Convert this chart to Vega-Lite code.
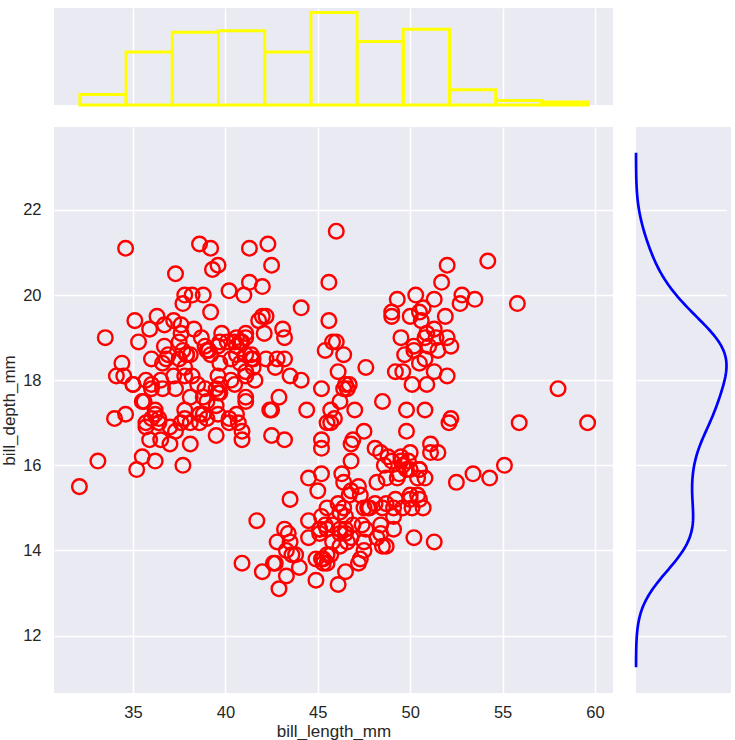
{
"$schema": "https://vega.github.io/schema/vega-lite/v6.json",
"background": "white",
"padding": {"left": 0, "top": 8, "right": 0, "bottom": 0},
"config": {
  "view": {"fill": "#EAEAF2", "stroke": null},
  "axis": {"gridColor": "white", "gridWidth": 1.5, "gridOpacity": 1, "domain": false, "ticks": false, "labelFont": "Liberation Sans", "titleFont": "Liberation Sans", "labelFontSize": 16.5, "titleFontSize": 17, "labelColor": "#262626", "titleColor": "#262626", "titleFontWeight": "normal"}
},
"datasets": {"penguins": [
{"bill_length_mm":39.1,"bill_depth_mm":18.7},{"bill_length_mm":39.5,"bill_depth_mm":17.4},{"bill_length_mm":40.3,"bill_depth_mm":18.0},{"bill_length_mm":36.7,"bill_depth_mm":19.3},{"bill_length_mm":39.3,"bill_depth_mm":20.6},{"bill_length_mm":38.9,"bill_depth_mm":17.8},{"bill_length_mm":39.2,"bill_depth_mm":19.6},{"bill_length_mm":34.1,"bill_depth_mm":18.1},{"bill_length_mm":42.0,"bill_depth_mm":20.2},{"bill_length_mm":37.8,"bill_depth_mm":17.1},
{"bill_length_mm":37.8,"bill_depth_mm":17.3},{"bill_length_mm":41.1,"bill_depth_mm":17.6},{"bill_length_mm":38.6,"bill_depth_mm":21.2},{"bill_length_mm":34.6,"bill_depth_mm":21.1},{"bill_length_mm":36.6,"bill_depth_mm":17.8},{"bill_length_mm":38.7,"bill_depth_mm":19.0},{"bill_length_mm":42.5,"bill_depth_mm":20.7},{"bill_length_mm":34.4,"bill_depth_mm":18.4},{"bill_length_mm":46.0,"bill_depth_mm":21.5},{"bill_length_mm":37.8,"bill_depth_mm":18.3},
{"bill_length_mm":37.7,"bill_depth_mm":18.7},{"bill_length_mm":35.9,"bill_depth_mm":19.2},{"bill_length_mm":38.2,"bill_depth_mm":18.1},{"bill_length_mm":38.8,"bill_depth_mm":17.2},{"bill_length_mm":35.3,"bill_depth_mm":18.9},{"bill_length_mm":40.6,"bill_depth_mm":18.6},{"bill_length_mm":40.5,"bill_depth_mm":17.9},{"bill_length_mm":37.9,"bill_depth_mm":18.6},{"bill_length_mm":40.5,"bill_depth_mm":18.9},{"bill_length_mm":39.5,"bill_depth_mm":16.7},
{"bill_length_mm":37.2,"bill_depth_mm":18.1},{"bill_length_mm":39.5,"bill_depth_mm":17.8},{"bill_length_mm":40.9,"bill_depth_mm":18.9},{"bill_length_mm":36.4,"bill_depth_mm":17.0},{"bill_length_mm":39.2,"bill_depth_mm":21.1},{"bill_length_mm":38.8,"bill_depth_mm":20.0},{"bill_length_mm":42.2,"bill_depth_mm":18.5},{"bill_length_mm":37.6,"bill_depth_mm":19.3},{"bill_length_mm":39.8,"bill_depth_mm":19.1},{"bill_length_mm":36.5,"bill_depth_mm":18.0},
{"bill_length_mm":40.8,"bill_depth_mm":18.4},{"bill_length_mm":36.0,"bill_depth_mm":18.5},{"bill_length_mm":44.1,"bill_depth_mm":19.7},{"bill_length_mm":37.0,"bill_depth_mm":16.9},{"bill_length_mm":39.6,"bill_depth_mm":18.8},{"bill_length_mm":41.1,"bill_depth_mm":19.0},{"bill_length_mm":37.5,"bill_depth_mm":18.9},{"bill_length_mm":36.0,"bill_depth_mm":17.9},{"bill_length_mm":42.3,"bill_depth_mm":21.2},{"bill_length_mm":39.6,"bill_depth_mm":17.7},
{"bill_length_mm":40.1,"bill_depth_mm":18.9},{"bill_length_mm":35.0,"bill_depth_mm":17.9},{"bill_length_mm":42.0,"bill_depth_mm":19.5},{"bill_length_mm":34.5,"bill_depth_mm":18.1},{"bill_length_mm":41.4,"bill_depth_mm":18.6},{"bill_length_mm":39.0,"bill_depth_mm":17.5},{"bill_length_mm":40.6,"bill_depth_mm":18.8},{"bill_length_mm":36.5,"bill_depth_mm":16.6},{"bill_length_mm":37.6,"bill_depth_mm":19.1},{"bill_length_mm":35.7,"bill_depth_mm":16.9},
{"bill_length_mm":41.3,"bill_depth_mm":21.1},{"bill_length_mm":37.6,"bill_depth_mm":17.0},{"bill_length_mm":41.1,"bill_depth_mm":18.2},{"bill_length_mm":36.4,"bill_depth_mm":17.1},{"bill_length_mm":41.6,"bill_depth_mm":18.0},{"bill_length_mm":35.5,"bill_depth_mm":16.2},{"bill_length_mm":41.1,"bill_depth_mm":19.1},{"bill_length_mm":35.9,"bill_depth_mm":16.6},{"bill_length_mm":41.8,"bill_depth_mm":19.4},{"bill_length_mm":33.5,"bill_depth_mm":19.0},
{"bill_length_mm":39.7,"bill_depth_mm":18.4},{"bill_length_mm":39.6,"bill_depth_mm":17.2},{"bill_length_mm":45.8,"bill_depth_mm":18.9},{"bill_length_mm":35.5,"bill_depth_mm":17.5},{"bill_length_mm":42.8,"bill_depth_mm":18.5},{"bill_length_mm":40.9,"bill_depth_mm":16.8},{"bill_length_mm":37.2,"bill_depth_mm":19.4},{"bill_length_mm":36.2,"bill_depth_mm":16.1},{"bill_length_mm":42.1,"bill_depth_mm":19.1},{"bill_length_mm":34.6,"bill_depth_mm":17.2},
{"bill_length_mm":42.9,"bill_depth_mm":17.6},{"bill_length_mm":36.7,"bill_depth_mm":18.8},{"bill_length_mm":35.1,"bill_depth_mm":19.4},{"bill_length_mm":37.3,"bill_depth_mm":17.8},{"bill_length_mm":41.3,"bill_depth_mm":20.3},{"bill_length_mm":36.3,"bill_depth_mm":19.5},{"bill_length_mm":36.9,"bill_depth_mm":18.6},{"bill_length_mm":38.3,"bill_depth_mm":19.2},{"bill_length_mm":38.9,"bill_depth_mm":18.8},{"bill_length_mm":35.7,"bill_depth_mm":18.0},
{"bill_length_mm":41.1,"bill_depth_mm":18.1},{"bill_length_mm":34.0,"bill_depth_mm":17.1},{"bill_length_mm":39.6,"bill_depth_mm":18.1},{"bill_length_mm":36.2,"bill_depth_mm":17.3},{"bill_length_mm":40.8,"bill_depth_mm":18.9},{"bill_length_mm":38.1,"bill_depth_mm":18.6},{"bill_length_mm":40.3,"bill_depth_mm":18.5},{"bill_length_mm":33.1,"bill_depth_mm":16.1},{"bill_length_mm":43.2,"bill_depth_mm":18.5},{"bill_length_mm":35.0,"bill_depth_mm":17.9},
{"bill_length_mm":41.0,"bill_depth_mm":20.0},{"bill_length_mm":37.7,"bill_depth_mm":16.0},{"bill_length_mm":37.8,"bill_depth_mm":20.0},{"bill_length_mm":37.9,"bill_depth_mm":18.6},{"bill_length_mm":39.7,"bill_depth_mm":18.9},{"bill_length_mm":38.6,"bill_depth_mm":17.2},{"bill_length_mm":38.2,"bill_depth_mm":20.0},{"bill_length_mm":38.1,"bill_depth_mm":17.0},{"bill_length_mm":43.2,"bill_depth_mm":19.0},{"bill_length_mm":38.1,"bill_depth_mm":16.5},
{"bill_length_mm":45.6,"bill_depth_mm":20.3},{"bill_length_mm":39.7,"bill_depth_mm":17.7},{"bill_length_mm":42.2,"bill_depth_mm":19.5},{"bill_length_mm":39.6,"bill_depth_mm":20.7},{"bill_length_mm":42.7,"bill_depth_mm":18.3},{"bill_length_mm":38.6,"bill_depth_mm":17.0},{"bill_length_mm":37.3,"bill_depth_mm":20.5},{"bill_length_mm":35.7,"bill_depth_mm":17.0},{"bill_length_mm":41.1,"bill_depth_mm":18.6},{"bill_length_mm":36.2,"bill_depth_mm":17.2},
{"bill_length_mm":37.7,"bill_depth_mm":19.8},{"bill_length_mm":40.2,"bill_depth_mm":17.0},{"bill_length_mm":41.4,"bill_depth_mm":18.5},{"bill_length_mm":35.2,"bill_depth_mm":15.9},{"bill_length_mm":40.6,"bill_depth_mm":19.0},{"bill_length_mm":38.8,"bill_depth_mm":17.6},{"bill_length_mm":41.5,"bill_depth_mm":18.3},{"bill_length_mm":39.0,"bill_depth_mm":17.1},{"bill_length_mm":44.1,"bill_depth_mm":18.0},{"bill_length_mm":38.5,"bill_depth_mm":17.9},
{"bill_length_mm":43.1,"bill_depth_mm":19.2},{"bill_length_mm":36.8,"bill_depth_mm":18.5},{"bill_length_mm":37.5,"bill_depth_mm":18.5},{"bill_length_mm":38.1,"bill_depth_mm":17.6},{"bill_length_mm":41.1,"bill_depth_mm":17.5},{"bill_length_mm":35.6,"bill_depth_mm":17.5},{"bill_length_mm":40.2,"bill_depth_mm":20.1},{"bill_length_mm":37.0,"bill_depth_mm":16.5},{"bill_length_mm":39.7,"bill_depth_mm":17.9},{"bill_length_mm":40.2,"bill_depth_mm":17.1},
{"bill_length_mm":40.6,"bill_depth_mm":17.2},{"bill_length_mm":32.1,"bill_depth_mm":15.5},{"bill_length_mm":40.7,"bill_depth_mm":17.0},{"bill_length_mm":37.3,"bill_depth_mm":16.8},{"bill_length_mm":39.0,"bill_depth_mm":18.7},{"bill_length_mm":39.2,"bill_depth_mm":18.6},{"bill_length_mm":36.6,"bill_depth_mm":18.4},{"bill_length_mm":36.0,"bill_depth_mm":17.8},{"bill_length_mm":37.8,"bill_depth_mm":18.1},{"bill_length_mm":36.0,"bill_depth_mm":17.1},
{"bill_length_mm":41.5,"bill_depth_mm":18.5},
{"bill_length_mm":46.5,"bill_depth_mm":17.9},{"bill_length_mm":50.0,"bill_depth_mm":19.5},{"bill_length_mm":51.3,"bill_depth_mm":19.2},{"bill_length_mm":45.4,"bill_depth_mm":18.7},{"bill_length_mm":52.7,"bill_depth_mm":19.8},{"bill_length_mm":45.2,"bill_depth_mm":17.8},{"bill_length_mm":46.1,"bill_depth_mm":18.2},{"bill_length_mm":51.3,"bill_depth_mm":18.2},{"bill_length_mm":46.0,"bill_depth_mm":18.9},{"bill_length_mm":51.3,"bill_depth_mm":19.9},
{"bill_length_mm":46.6,"bill_depth_mm":17.8},{"bill_length_mm":51.7,"bill_depth_mm":20.3},{"bill_length_mm":47.0,"bill_depth_mm":17.3},{"bill_length_mm":52.0,"bill_depth_mm":18.1},{"bill_length_mm":45.9,"bill_depth_mm":17.1},{"bill_length_mm":50.5,"bill_depth_mm":19.6},{"bill_length_mm":50.3,"bill_depth_mm":20.0},{"bill_length_mm":58.0,"bill_depth_mm":17.8},{"bill_length_mm":46.4,"bill_depth_mm":18.6},{"bill_length_mm":49.2,"bill_depth_mm":18.2},
{"bill_length_mm":42.4,"bill_depth_mm":17.3},{"bill_length_mm":48.5,"bill_depth_mm":17.5},{"bill_length_mm":43.2,"bill_depth_mm":16.6},{"bill_length_mm":50.6,"bill_depth_mm":19.4},{"bill_length_mm":46.7,"bill_depth_mm":17.9},{"bill_length_mm":52.0,"bill_depth_mm":19.0},{"bill_length_mm":50.5,"bill_depth_mm":18.4},{"bill_length_mm":49.5,"bill_depth_mm":19.0},{"bill_length_mm":46.4,"bill_depth_mm":17.8},{"bill_length_mm":52.8,"bill_depth_mm":20.0},
{"bill_length_mm":40.9,"bill_depth_mm":16.6},{"bill_length_mm":54.2,"bill_depth_mm":20.8},{"bill_length_mm":42.5,"bill_depth_mm":16.7},{"bill_length_mm":51.0,"bill_depth_mm":18.8},{"bill_length_mm":49.7,"bill_depth_mm":18.6},{"bill_length_mm":47.5,"bill_depth_mm":16.8},{"bill_length_mm":47.6,"bill_depth_mm":18.3},{"bill_length_mm":52.0,"bill_depth_mm":20.7},{"bill_length_mm":46.9,"bill_depth_mm":16.6},{"bill_length_mm":53.5,"bill_depth_mm":19.9},
{"bill_length_mm":49.0,"bill_depth_mm":19.5},{"bill_length_mm":46.2,"bill_depth_mm":17.5},{"bill_length_mm":50.9,"bill_depth_mm":19.1},{"bill_length_mm":45.5,"bill_depth_mm":17.0},{"bill_length_mm":50.9,"bill_depth_mm":17.9},{"bill_length_mm":50.8,"bill_depth_mm":18.5},{"bill_length_mm":50.1,"bill_depth_mm":17.9},{"bill_length_mm":49.0,"bill_depth_mm":19.6},{"bill_length_mm":51.5,"bill_depth_mm":18.7},{"bill_length_mm":49.8,"bill_depth_mm":17.3},
{"bill_length_mm":48.1,"bill_depth_mm":16.4},{"bill_length_mm":51.4,"bill_depth_mm":19.0},{"bill_length_mm":45.7,"bill_depth_mm":17.3},{"bill_length_mm":50.7,"bill_depth_mm":19.7},{"bill_length_mm":42.5,"bill_depth_mm":17.3},{"bill_length_mm":52.2,"bill_depth_mm":18.8},{"bill_length_mm":45.2,"bill_depth_mm":16.6},{"bill_length_mm":49.3,"bill_depth_mm":19.9},{"bill_length_mm":50.2,"bill_depth_mm":18.8},{"bill_length_mm":45.6,"bill_depth_mm":19.4},
{"bill_length_mm":51.9,"bill_depth_mm":19.5},{"bill_length_mm":46.8,"bill_depth_mm":16.5},{"bill_length_mm":45.7,"bill_depth_mm":17.0},{"bill_length_mm":55.8,"bill_depth_mm":19.8},{"bill_length_mm":43.5,"bill_depth_mm":18.1},{"bill_length_mm":49.6,"bill_depth_mm":18.2},{"bill_length_mm":50.8,"bill_depth_mm":19.0},{"bill_length_mm":50.2,"bill_depth_mm":18.7},
{"bill_length_mm":46.1,"bill_depth_mm":13.2},{"bill_length_mm":50.0,"bill_depth_mm":16.3},{"bill_length_mm":48.7,"bill_depth_mm":14.1},{"bill_length_mm":50.0,"bill_depth_mm":15.2},{"bill_length_mm":47.6,"bill_depth_mm":14.5},{"bill_length_mm":46.5,"bill_depth_mm":13.5},{"bill_length_mm":45.4,"bill_depth_mm":14.6},{"bill_length_mm":46.7,"bill_depth_mm":15.3},{"bill_length_mm":43.3,"bill_depth_mm":13.4},{"bill_length_mm":46.8,"bill_depth_mm":15.4},
{"bill_length_mm":40.9,"bill_depth_mm":13.7},{"bill_length_mm":49.0,"bill_depth_mm":16.1},{"bill_length_mm":45.5,"bill_depth_mm":13.7},{"bill_length_mm":48.4,"bill_depth_mm":14.6},{"bill_length_mm":45.8,"bill_depth_mm":14.6},{"bill_length_mm":49.3,"bill_depth_mm":15.7},{"bill_length_mm":42.0,"bill_depth_mm":13.5},{"bill_length_mm":49.2,"bill_depth_mm":15.2},{"bill_length_mm":46.2,"bill_depth_mm":14.5},{"bill_length_mm":48.7,"bill_depth_mm":15.1},
{"bill_length_mm":50.2,"bill_depth_mm":14.3},{"bill_length_mm":45.1,"bill_depth_mm":14.5},{"bill_length_mm":46.5,"bill_depth_mm":14.5},{"bill_length_mm":46.3,"bill_depth_mm":15.8},{"bill_length_mm":42.9,"bill_depth_mm":13.1},{"bill_length_mm":46.1,"bill_depth_mm":15.1},{"bill_length_mm":44.5,"bill_depth_mm":14.3},{"bill_length_mm":47.8,"bill_depth_mm":15.0},{"bill_length_mm":48.2,"bill_depth_mm":14.3},{"bill_length_mm":50.0,"bill_depth_mm":15.3},
{"bill_length_mm":47.3,"bill_depth_mm":15.3},{"bill_length_mm":42.8,"bill_depth_mm":14.2},{"bill_length_mm":45.1,"bill_depth_mm":14.5},{"bill_length_mm":59.6,"bill_depth_mm":17.0},{"bill_length_mm":49.1,"bill_depth_mm":14.8},{"bill_length_mm":48.4,"bill_depth_mm":16.3},{"bill_length_mm":42.6,"bill_depth_mm":13.7},{"bill_length_mm":44.4,"bill_depth_mm":17.3},{"bill_length_mm":44.0,"bill_depth_mm":13.6},{"bill_length_mm":48.7,"bill_depth_mm":15.7},
{"bill_length_mm":42.7,"bill_depth_mm":13.7},{"bill_length_mm":49.6,"bill_depth_mm":16.0},{"bill_length_mm":45.3,"bill_depth_mm":13.7},{"bill_length_mm":49.6,"bill_depth_mm":15.0},{"bill_length_mm":50.5,"bill_depth_mm":15.9},{"bill_length_mm":43.6,"bill_depth_mm":13.9},{"bill_length_mm":45.5,"bill_depth_mm":13.9},{"bill_length_mm":50.5,"bill_depth_mm":15.9},{"bill_length_mm":44.9,"bill_depth_mm":13.3},{"bill_length_mm":45.2,"bill_depth_mm":15.8},
{"bill_length_mm":46.6,"bill_depth_mm":14.2},{"bill_length_mm":48.5,"bill_depth_mm":14.1},{"bill_length_mm":45.1,"bill_depth_mm":14.4},{"bill_length_mm":50.1,"bill_depth_mm":15.0},{"bill_length_mm":46.5,"bill_depth_mm":14.4},{"bill_length_mm":45.0,"bill_depth_mm":15.4},{"bill_length_mm":43.8,"bill_depth_mm":13.9},{"bill_length_mm":45.5,"bill_depth_mm":15.0},{"bill_length_mm":43.2,"bill_depth_mm":14.5},{"bill_length_mm":50.4,"bill_depth_mm":15.3},
{"bill_length_mm":45.3,"bill_depth_mm":13.8},{"bill_length_mm":46.2,"bill_depth_mm":14.9},{"bill_length_mm":45.7,"bill_depth_mm":13.9},{"bill_length_mm":54.3,"bill_depth_mm":15.7},{"bill_length_mm":45.8,"bill_depth_mm":14.2},{"bill_length_mm":49.8,"bill_depth_mm":16.8},{"bill_length_mm":46.2,"bill_depth_mm":14.4},{"bill_length_mm":49.5,"bill_depth_mm":16.2},{"bill_length_mm":43.5,"bill_depth_mm":14.2},{"bill_length_mm":50.7,"bill_depth_mm":15.0},
{"bill_length_mm":47.7,"bill_depth_mm":15.0},{"bill_length_mm":46.4,"bill_depth_mm":15.6},{"bill_length_mm":48.2,"bill_depth_mm":15.6},{"bill_length_mm":46.5,"bill_depth_mm":14.8},{"bill_length_mm":46.4,"bill_depth_mm":15.0},{"bill_length_mm":48.6,"bill_depth_mm":16.0},{"bill_length_mm":47.5,"bill_depth_mm":14.2},{"bill_length_mm":51.1,"bill_depth_mm":16.3},{"bill_length_mm":45.2,"bill_depth_mm":13.8},{"bill_length_mm":45.2,"bill_depth_mm":16.4},
{"bill_length_mm":49.1,"bill_depth_mm":14.5},{"bill_length_mm":52.5,"bill_depth_mm":15.6},{"bill_length_mm":47.4,"bill_depth_mm":14.6},{"bill_length_mm":50.0,"bill_depth_mm":15.9},{"bill_length_mm":44.9,"bill_depth_mm":13.8},{"bill_length_mm":50.8,"bill_depth_mm":17.3},{"bill_length_mm":43.4,"bill_depth_mm":14.4},{"bill_length_mm":51.3,"bill_depth_mm":14.2},{"bill_length_mm":47.5,"bill_depth_mm":14.0},{"bill_length_mm":52.1,"bill_depth_mm":17.0},
{"bill_length_mm":47.5,"bill_depth_mm":15.0},{"bill_length_mm":52.2,"bill_depth_mm":17.1},{"bill_length_mm":45.5,"bill_depth_mm":14.5},{"bill_length_mm":49.5,"bill_depth_mm":16.1},{"bill_length_mm":44.5,"bill_depth_mm":14.7},{"bill_length_mm":50.8,"bill_depth_mm":15.7},{"bill_length_mm":49.4,"bill_depth_mm":15.8},{"bill_length_mm":46.9,"bill_depth_mm":14.6},{"bill_length_mm":48.4,"bill_depth_mm":14.4},{"bill_length_mm":51.1,"bill_depth_mm":16.5},
{"bill_length_mm":48.5,"bill_depth_mm":15.0},{"bill_length_mm":55.9,"bill_depth_mm":17.0},{"bill_length_mm":47.2,"bill_depth_mm":15.5},{"bill_length_mm":49.1,"bill_depth_mm":15.0},{"bill_length_mm":47.3,"bill_depth_mm":13.8},{"bill_length_mm":46.8,"bill_depth_mm":16.1},{"bill_length_mm":41.7,"bill_depth_mm":14.7},{"bill_length_mm":53.4,"bill_depth_mm":15.8},{"bill_length_mm":43.3,"bill_depth_mm":14.0},{"bill_length_mm":48.1,"bill_depth_mm":15.1},
{"bill_length_mm":50.5,"bill_depth_mm":15.2},{"bill_length_mm":49.8,"bill_depth_mm":15.9},{"bill_length_mm":43.5,"bill_depth_mm":15.2},{"bill_length_mm":51.5,"bill_depth_mm":16.3},{"bill_length_mm":46.2,"bill_depth_mm":14.1},{"bill_length_mm":55.1,"bill_depth_mm":16.0},{"bill_length_mm":44.5,"bill_depth_mm":15.7},{"bill_length_mm":48.8,"bill_depth_mm":16.2},{"bill_length_mm":47.2,"bill_depth_mm":13.7},{"bill_length_mm":46.8,"bill_depth_mm":14.3},
{"bill_length_mm":50.4,"bill_depth_mm":15.7},{"bill_length_mm":45.2,"bill_depth_mm":14.8},{"bill_length_mm":49.9,"bill_depth_mm":16.1}
]},
"resolve": {"scale": {"x": "independent", "y": "independent"}},
"spacing": 20,
"vconcat": [
  {
    "width": 559, "height": 97,
    "data": {"name": "penguins"},
    "mark": {"type": "bar", "filled": false, "color": "#FFFF00", "strokeWidth": 3, "binSpacing": 0},
    "encoding": {
      "x": {"field": "bill_length_mm", "type": "quantitative", "bin": {"extent": [32.1, 59.6], "step": 2.5, "nice": false},
            "scale": {"domain": [30.725, 60.975], "nice": false, "zero": false},
            "axis": {"values": [35, 40, 45, 50, 55, 60], "labels": false, "title": null, "grid": true}},
      "y": {"aggregate": "count", "type": "quantitative", "scale": {"domain": [0, 64.05], "nice": false}, "axis": null}
    }
  },
  {
    "spacing": 17,
    "resolve": {"scale": {"x": "independent", "y": "independent"}},
    "hconcat": [
      {
        "width": 559, "height": 566,
        "data": {"name": "penguins"},
        "mark": {"type": "point", "shape": "circle", "filled": false, "color": "#FF0000", "strokeWidth": 2.4, "size": 214, "opacity": 1},
        "encoding": {
          "x": {"field": "bill_length_mm", "type": "quantitative",
                "scale": {"domain": [30.725, 60.975], "nice": false, "zero": false},
                "axis": {"values": [35, 40, 45, 50, 55, 60], "title": "bill_length_mm", "labelPadding": 11, "titlePadding": 3, "grid": true}},
          "y": {"field": "bill_depth_mm", "type": "quantitative",
                "scale": {"domain": [10.651, 23.949], "nice": false, "zero": false},
                "axis": {"values": [12, 14, 16, 18, 20, 22], "title": "bill_depth_mm", "labelPadding": 13, "titlePadding": 4, "grid": true}}
        }
      },
      {
        "width": 95, "height": 566,
        "data": {"name": "penguins"},
        "transform": [
          {"density": "bill_depth_mm", "bandwidth": 0.6148, "extent": [11.2556, 23.3444], "steps": 200}
        ],
        "mark": {"type": "line", "color": "#0000FF", "strokeWidth": 2.7},
        "encoding": {
          "x": {"field": "density", "type": "quantitative", "scale": {"zero": true, "nice": false, "range": [0, 90.5]}, "axis": null},
          "y": {"field": "value", "type": "quantitative",
                "scale": {"domain": [10.651, 23.949], "nice": false, "zero": false},
                "axis": {"values": [12, 14, 16, 18, 20, 22], "labels": false, "title": null, "grid": true}},
          "order": {"field": "value", "type": "quantitative"}
        }
      }
    ]
  }
]
}
